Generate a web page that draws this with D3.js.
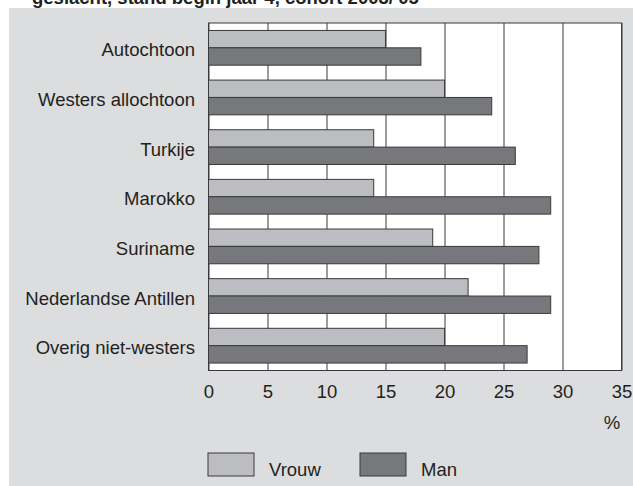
<!DOCTYPE html>
<html>
<head>
<meta charset="utf-8">
<script src="https://cdn.jsdelivr.net/npm/d3@7"></script>
<style>
  body { margin: 0; background: #fff; }
  text { font-family: "Liberation Sans", Arial, sans-serif; fill: #231f20; }
</style>
</head>
<body>
<div id="viz"></div>
<script>
var categories = ["Autochtoon", "Westers allochtoon", "Turkije", "Marokko",
                  "Suriname", "Nederlandse Antillen", "Overig niet-westers"];
var series = ["Vrouw", "Man"];
var vrouw = [15, 20, 14, 14, 19, 22, 20];
var man = [18, 24, 26, 29, 28, 29, 27];
var xTicks = [0, 5, 10, 15, 20, 25, 30, 35];
var title = "geslacht, stand begin jaar 4, cohort 2003/'05";

var W = 633, H = 486,
    plot = { left: 208.5, right: 621.5, top: 23, bottom: 370.5 },
    panel_color = "#dcdddf",
    colors = { Vrouw: "#bcbdc0", Man: "#77787c" },
    line_color = "#3a3a3c",
    fs = 18.5;

var data = categories.map(function(c, i) {
  return { cat: c, Vrouw: vrouw[i], Man: man[i] };
});

var svg = d3.select("#viz").append("svg")
    .attr("width", W)
    .attr("height", H);

// grey panel
svg.append("rect")
    .attr("x", 9).attr("y", 8)
    .attr("width", W - 9).attr("height", H - 8)
    .attr("fill", panel_color);

// clipped title at the very top
svg.append("text")
    .attr("x", 32).attr("y", 4)
    .style("font-size", fs + "px")
    .style("font-weight", "bold")
    .text(title);

var x = d3.scaleLinear().domain([0, 35]).range([plot.left, plot.right]);
var y = d3.scaleBand().domain(categories)
    .range([plot.top, plot.bottom])
    .paddingInner(0.3).paddingOuter(0.15);
var ySub = d3.scaleBand().domain(series).range([0, y.bandwidth()]);

// plot background
svg.append("rect")
    .attr("x", plot.left).attr("y", plot.top)
    .attr("width", plot.right - plot.left)
    .attr("height", plot.bottom - plot.top)
    .attr("fill", "#fff");

// grid + tick labels
var xAxis = d3.axisBottom(x).tickValues(xTicks)
    .tickSize(-(plot.bottom - plot.top))
    .tickPadding(14);

var ax = svg.append("g")
    .attr("transform", "translate(0," + plot.bottom + ")")
    .call(xAxis);
ax.select(".domain").remove();
ax.selectAll("line").attr("stroke", line_color).attr("stroke-width", 1);
ax.selectAll("text")
    .attr("font-family", null)
    .attr("font-size", null)
    .attr("fill", null)
    .style("font-size", fs + "px");

// plot border
svg.append("rect")
    .attr("x", plot.left).attr("y", plot.top)
    .attr("width", plot.right - plot.left)
    .attr("height", plot.bottom - plot.top)
    .attr("fill", "none")
    .attr("stroke", line_color)
    .attr("stroke-width", 1);

// bars
var groups = svg.selectAll(".grp").data(data).enter()
    .append("g")
    .attr("class", "grp")
    .attr("transform", function(d) { return "translate(0," + y(d.cat) + ")"; });

groups.selectAll("rect")
    .data(function(d) { return series.map(function(s) { return { key: s, value: d[s] }; }); })
    .enter().append("rect")
    .attr("x", x(0))
    .attr("y", function(d) { return ySub(d.key); })
    .attr("width", function(d) { return x(d.value) - x(0); })
    .attr("height", ySub.bandwidth())
    .attr("fill", function(d) { return colors[d.key]; })
    .attr("stroke", line_color)
    .attr("stroke-width", 1);

// category labels
svg.selectAll(".cat").data(categories).enter()
    .append("text")
    .attr("class", "cat")
    .attr("x", 195)
    .attr("y", function(d) { return y(d) + y.bandwidth() / 2 + 8.5; })
    .style("text-anchor", "end")
    .style("font-size", fs + "px")
    .text(function(d) { return d; });

// unit
svg.append("text")
    .attr("x", 612).attr("y", 429)
    .style("text-anchor", "middle")
    .style("font-size", fs + "px")
    .text("%");

// legend
var legX = [208, 360];
var leg = svg.selectAll(".leg").data(series).enter()
    .append("g")
    .attr("class", "leg")
    .attr("transform", function(d, i) { return "translate(" + legX[i] + ",453)"; });

leg.append("rect")
    .attr("width", 46).attr("height", 23)
    .attr("fill", function(d) { return colors[d]; })
    .attr("stroke", line_color)
    .attr("stroke-width", 1);

leg.append("text")
    .attr("x", 61).attr("y", 23)
    .style("font-size", fs + "px")
    .text(function(d) { return d; });
</script>
</body>
</html>
